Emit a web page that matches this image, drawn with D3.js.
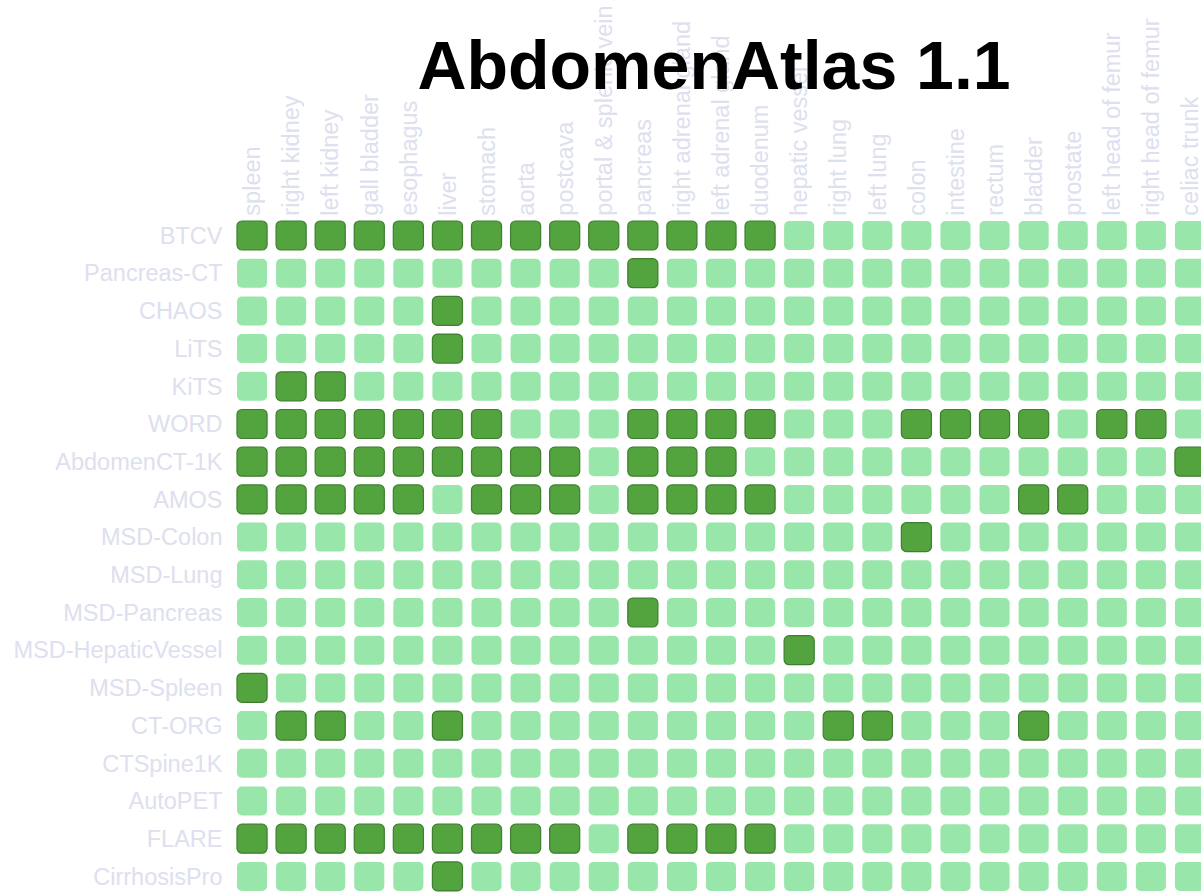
<!DOCTYPE html>
<html>
<head>
<meta charset="utf-8">
<script src="https://cdn.jsdelivr.net/npm/d3@7"></script>
<style>
  body { margin: 0; background: #fff; }
  svg { display: block; }
</style>
</head>
<body>
<div id="chart"></div>
<script>
const datasets = ["BTCV", "Pancreas-CT", "CHAOS", "LiTS", "KiTS", "WORD", "AbdomenCT-1K", "AMOS",
    "MSD-Colon", "MSD-Lung", "MSD-Pancreas", "MSD-HepaticVessel", "MSD-Spleen", "CT-ORG",
    "CTSpine1K", "AutoPET", "FLARE", "CirrhosisPro"];

const organs = ["spleen", "right kidney", "left kidney", "gall bladder", "esophagus", "liver",
    "stomach", "aorta", "postcava", "portal & splenic vein", "pancreas", "right adrenal gland",
    "left adrenal gland", "duodenum", "hepatic vessel", "right lung", "left lung", "colon",
    "intestine", "rectum", "bladder", "prostate", "left head of femur", "right head of femur",
    "celiac trunk"];

// 1 = dataset has annotation for organ
const annotated = [
    [1,1,1,1,1,1,1,1,1,1,1,1,1,1,0,0,0,0,0,0,0,0,0,0,0], // BTCV
    [0,0,0,0,0,0,0,0,0,0,1,0,0,0,0,0,0,0,0,0,0,0,0,0,0], // Pancreas-CT
    [0,0,0,0,0,1,0,0,0,0,0,0,0,0,0,0,0,0,0,0,0,0,0,0,0], // CHAOS
    [0,0,0,0,0,1,0,0,0,0,0,0,0,0,0,0,0,0,0,0,0,0,0,0,0], // LiTS
    [0,1,1,0,0,0,0,0,0,0,0,0,0,0,0,0,0,0,0,0,0,0,0,0,0], // KiTS
    [1,1,1,1,1,1,1,0,0,0,1,1,1,1,0,0,0,1,1,1,1,0,1,1,0], // WORD
    [1,1,1,1,1,1,1,1,1,0,1,1,1,0,0,0,0,0,0,0,0,0,0,0,1], // AbdomenCT-1K
    [1,1,1,1,1,0,1,1,1,0,1,1,1,1,0,0,0,0,0,0,1,1,0,0,0], // AMOS
    [0,0,0,0,0,0,0,0,0,0,0,0,0,0,0,0,0,1,0,0,0,0,0,0,0], // MSD-Colon
    [0,0,0,0,0,0,0,0,0,0,0,0,0,0,0,0,0,0,0,0,0,0,0,0,0], // MSD-Lung
    [0,0,0,0,0,0,0,0,0,0,1,0,0,0,0,0,0,0,0,0,0,0,0,0,0], // MSD-Pancreas
    [0,0,0,0,0,0,0,0,0,0,0,0,0,0,1,0,0,0,0,0,0,0,0,0,0], // MSD-HepaticVessel
    [1,0,0,0,0,0,0,0,0,0,0,0,0,0,0,0,0,0,0,0,0,0,0,0,0], // MSD-Spleen
    [0,1,1,0,0,1,0,0,0,0,0,0,0,0,0,1,1,0,0,0,1,0,0,0,0], // CT-ORG
    [0,0,0,0,0,0,0,0,0,0,0,0,0,0,0,0,0,0,0,0,0,0,0,0,0], // CTSpine1K
    [0,0,0,0,0,0,0,0,0,0,0,0,0,0,0,0,0,0,0,0,0,0,0,0,0], // AutoPET
    [1,1,1,1,1,1,1,1,1,0,1,1,1,1,0,0,0,0,0,0,0,0,0,0,0], // FLARE
    [0,0,0,0,0,1,0,0,0,0,0,0,0,0,0,0,0,0,0,0,0,0,0,0,0]  // CirrhosisPro
];

const title = "AbdomenAtlas 1.1";

const width = 1201, height = 892;
const colStep = 39.08, rowStep = 37.7;
const gridLeft = 232.5, gridTop = 216.65;

const cells = [];
datasets.forEach((ds, i) => {
    organs.forEach((org, j) => {
        cells.push({ dataset: ds, organ: org, value: annotated[i][j] });
    });
});

const x = d3.scaleBand()
    .domain(organs)
    .range([gridLeft, gridLeft + organs.length * colStep])
    .paddingInner(0.23)
    .paddingOuter(0.115);

const y = d3.scaleBand()
    .domain(datasets)
    .range([gridTop, gridTop + datasets.length * rowStep])
    .paddingInner(0.23)
    .paddingOuter(0.115);

const color = d3.scaleOrdinal()
    .domain([0, 1])
    .range(["#98e6a9", "#53a33e"]);

const svg = d3.select("#chart").append("svg")
    .attr("width", width)
    .attr("height", height);

// row labels
svg.append("g")
    .selectAll("text")
    .data(datasets)
    .enter().append("text")
    .attr("x", gridLeft - 10)
    .attr("y", d => y(d) + y.bandwidth() / 2)
    .attr("dy", "0.35em")
    .attr("text-anchor", "end")
    .attr("font-family", "'Liberation Sans', Arial, sans-serif")
    .attr("font-size", 23.5)
    .attr("fill", "#dde0ee")
    .text(d => d);

// column labels
svg.append("g")
    .selectAll("text")
    .data(organs)
    .enter().append("text")
    .attr("transform", d => `translate(${x(d) + x.bandwidth() / 2},${gridTop - 1}) rotate(-90)`)
    .attr("dy", "0.35em")
    .attr("text-anchor", "start")
    .attr("font-family", "'Liberation Sans', Arial, sans-serif")
    .attr("font-size", 23.5)
    .attr("fill", "#dde0ee")
    .text(d => d);

// cells
svg.append("g")
    .selectAll("rect")
    .data(cells)
    .enter().append("rect")
    .attr("x", d => x(d.organ))
    .attr("y", d => y(d.dataset))
    .attr("width", x.bandwidth())
    .attr("height", y.bandwidth())
    .attr("rx", 5)
    .attr("ry", 5)
    .attr("fill", d => color(d.value))
    .attr("stroke", d => d.value ? "#3e7e2f" : "none")
    .attr("stroke-width", 1.2);

// title on top
svg.append("text")
    .attr("x", 714)
    .attr("y", 89)
    .attr("text-anchor", "middle")
    .attr("font-family", "'Liberation Sans', Arial, sans-serif")
    .attr("font-weight", "bold")
    .attr("font-size", 68)
    .attr("fill", "#000")
    .text(title);
</script>
</body>
</html>
